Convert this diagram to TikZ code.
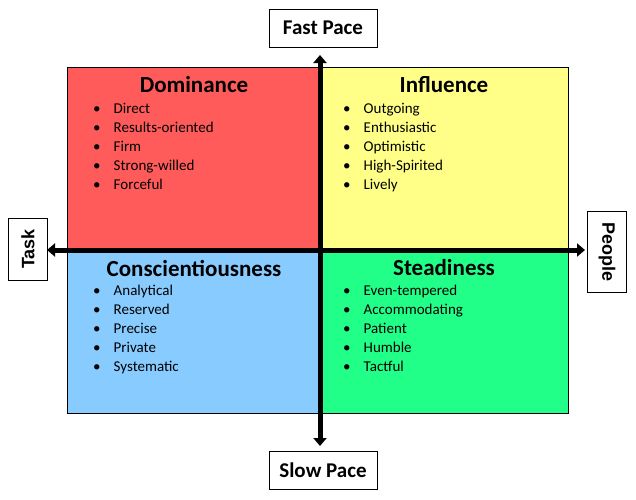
\documentclass[tikz,border=0pt]{standalone}
\usepackage{fontspec}
\setmainfont{Carlito}
\newfontfamily\arialfont{Liberation Sans}
\usetikzlibrary{arrows.meta}
\definecolor{domred}{HTML}{FF5B5B}
\definecolor{infyellow}{HTML}{FFFF88}
\definecolor{conblue}{HTML}{88CCFF}
\definecolor{steadgreen}{HTML}{22FF88}
\newcommand{\bitem}[1]{\makebox[20.5pt][l]{\textbullet}#1}

\begin{document}
\begin{tikzpicture}[
  x=1pt, y=-1pt,
  quad/.style={draw=black, line width=0.6pt, minimum height=182pt, inner sep=0pt},
  qtitle/.style={font=\fontsize{23}{25}\selectfont\bfseries, inner sep=0pt},
  qlist/.style={font=\fontsize{15}{19}\selectfont, align=left, inner sep=0pt, anchor=north west},
  pacebox/.style={draw=black, line width=0.6pt, fill=white, minimum width=108pt, minimum height=38pt, font=\fontsize{21}{23}\selectfont\bfseries},
  sidebox/.style={draw=black, line width=0.6pt, fill=white, minimum width=39pt, font=\arialfont\fontsize{18}{20}\selectfont\bfseries},
  axis/.style={line width=5pt, {Triangle[length=8pt,width=13pt]}-{Triangle[length=8pt,width=13pt]}},
]
\useasboundingbox (0,0) rectangle (636,499);

% quadrants
\node[quad, fill=domred, anchor=south east, minimum width=252pt] (dom) at (320,250) {};
\node[quad, fill=infyellow, anchor=south west, minimum width=248pt] (inf) at (320,250) {};
\node[quad, fill=conblue, anchor=north east, minimum width=252pt, minimum height=163pt] (con) at (320,250) {};
\node[quad, fill=steadgreen, anchor=north west, minimum width=248pt, minimum height=163pt] (stead) at (320,250) {};

% titles and lists
\node[qtitle] (domtitle) at (194,85) {Dominance};
\node[qlist] (domlist) at (93,103) {\bitem{Direct}\\ \bitem{Results-oriented}\\ \bitem{Firm}\\ \bitem{Strong-willed}\\ \bitem{Forceful}};
\node[qtitle] (inftitle) at (444,85) {Influence};
\node[qlist] (inflist) at (343,103) {\bitem{Outgoing}\\ \bitem{Enthusiastic}\\ \bitem{Optimistic}\\ \bitem{High-Spirited}\\ \bitem{Lively}};
\node[qtitle] (contitle) at (194,268) {Conscientiousness};
\node[qlist] (conlist) at (93,285) {\bitem{Analytical}\\ \bitem{Reserved}\\ \bitem{Precise}\\ \bitem{Private}\\ \bitem{Systematic}};
\node[qtitle] (steadtitle) at (444,268) {Steadiness};
\node[qlist] (steadlist) at (343,285) {\bitem{Even-tempered}\\ \bitem{Accommodating}\\ \bitem{Patient}\\ \bitem{Humble}\\ \bitem{Tactful}};

% axis labels
\node[pacebox] (fast) at (323,28) {Fast Pace};
\node[pacebox] (slow) at (323,470) {Slow Pace};
\node[sidebox, minimum height=62pt] (task) at (28,249) {\rotatebox{90}{Task}};
\node[sidebox, minimum height=81pt] (people) at (607,252) {\rotatebox{-90}{People}};

% axes
\coordinate (top) at (320,55);
\coordinate (bottom) at (320,446);
\coordinate (left) at (47,250);
\coordinate (right) at (585,250);
\draw[axis] (bottom) -- (top);
\draw[axis] (left) -- (right);
\end{tikzpicture}
\end{document}
